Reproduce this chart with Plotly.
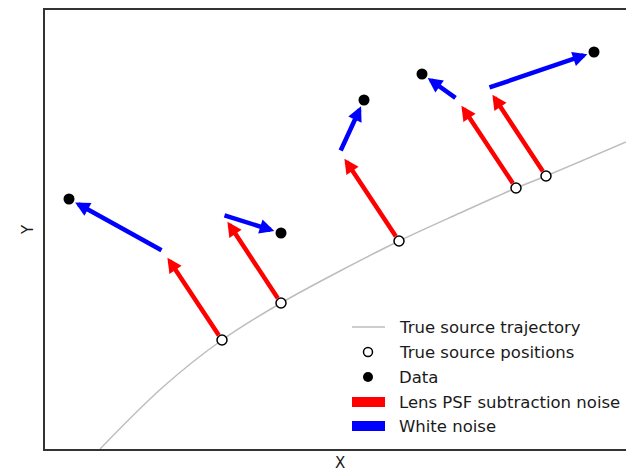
import plotly.graph_objects as go

# Source positions, noise-displaced positions and observed data (arbitrary units)
true_x = [177, 236, 354, 471, 501]
true_y = [109, 146, 208, 261, 273]

psf_x = [118, 178, 295, 412, 443]     # after lens PSF subtraction noise
psf_y = [198, 234, 297, 350, 361]

data_x = [24, 236, 319, 377, 549]     # after white noise
data_y = [250, 216, 349, 375, 397]

# Sampled true source trajectory
traj_x = [55, 118, 177, 236, 295, 354, 415, 471, 501, 581]
traj_y = [0, 62, 109, 146, 178, 208, 236, 261, 273, 307]

legend_labels = ["True source trajectory", "True source positions", "Data",
                 "Lens PSF subtraction noise", "White noise"]

W, H = 626, 472
ML, MR, MT, MB = 45, 0, 10, 23
PW, PH = W - ML - MR, H - MT - MB
FONT = "DejaVu Sans"
RED, BLUE = "#ff0000", "#0000ff"


def px(xp):
    return (xp - ML) / PW


def py(yp):
    return (H - MB - yp) / PH


fig = go.Figure()

fig.add_trace(go.Scatter(
    x=traj_x, y=traj_y, mode="lines", line=dict(color="#bdbdbd", width=1.5, shape="spline"),
    hoverinfo="skip", showlegend=False))

annotations = []
for x0, y0, x1, y1 in zip(true_x, true_y, psf_x, psf_y):
    annotations.append(dict(
        x=x1, y=y1, ax=x0, ay=y0, xref="x", yref="y", axref="x", ayref="y",
        showarrow=True, arrowhead=2, arrowsize=0.65, arrowwidth=4.5, arrowcolor=RED,
        standoff=8, startstandoff=4, text=""))
for x0, y0, x1, y1 in zip(psf_x, psf_y, data_x, data_y):
    annotations.append(dict(
        x=x1, y=y1, ax=x0, ay=y0, xref="x", yref="y", axref="x", ayref="y",
        showarrow=True, arrowhead=2, arrowsize=0.65, arrowwidth=4.5, arrowcolor=BLUE,
        standoff=7, startstandoff=0, text=""))

fig.add_trace(go.Scatter(
    x=true_x, y=true_y, mode="markers",
    marker=dict(size=10, color="white", line=dict(color="black", width=1.5)),
    showlegend=False))
fig.add_trace(go.Scatter(
    x=data_x, y=data_y, mode="markers",
    marker=dict(size=11, color="black"), showlegend=False))

# Legend panel drawn in paper coordinates
rows = [327, 352, 377, 402, 426]
sym_l, sym_r, sym_c, text_x = 352, 385, 368, 397
shapes = []
shapes.append(dict(type="line", xref="paper", yref="paper",
                   x0=px(sym_l), x1=px(sym_r), y0=py(rows[0]), y1=py(rows[0]),
                   line=dict(color="#bdbdbd", width=1.5)))
r = 4.5
shapes.append(dict(type="circle", xref="paper", yref="paper",
                   x0=px(sym_c - r), x1=px(sym_c + r), y0=py(rows[1] + r), y1=py(rows[1] - r),
                   fillcolor="white", line=dict(color="black", width=1.5)))
r = 5
shapes.append(dict(type="circle", xref="paper", yref="paper",
                   x0=px(sym_c - r), x1=px(sym_c + r), y0=py(rows[2] + r), y1=py(rows[2] - r),
                   fillcolor="black", line=dict(color="black", width=0)))
for row, col in [(rows[3], RED), (rows[4], BLUE)]:
    shapes.append(dict(type="rect", xref="paper", yref="paper",
                       x0=px(sym_l), x1=px(sym_r), y0=py(row + 5), y1=py(row - 5),
                       fillcolor=col, line=dict(width=0)))
for row, label in zip(rows, legend_labels):
    annotations.append(dict(
        x=px(text_x), y=py(row), xref="paper", yref="paper", text=label,
        showarrow=False, xanchor="left", yanchor="middle",
        font=dict(family=FONT, size=16.5, color="#1a1a1a")))

# Axis labels
annotations.append(dict(x=px(340), y=py(463), xref="paper", yref="paper", text="X",
                        showarrow=False, xanchor="center", yanchor="middle",
                        font=dict(family=FONT, size=15, color="#1a1a1a")))
annotations.append(dict(x=px(28), y=py(230), xref="paper", yref="paper", text="Y",
                        showarrow=False, xanchor="center", yanchor="middle", textangle=-90,
                        font=dict(family=FONT, size=15, color="#1a1a1a")))

fig.update_layout(
    width=W, height=H, margin=dict(l=ML, r=MR, t=MT, b=MB),
    paper_bgcolor="white", plot_bgcolor="white",
    showlegend=False, shapes=shapes, annotations=annotations,
    xaxis=dict(range=[0, PW], showgrid=False, zeroline=False, showticklabels=False,
               ticks="", showline=True, mirror=True, linecolor="#333", linewidth=2),
    yaxis=dict(range=[0, PH], showgrid=False, zeroline=False, showticklabels=False,
               ticks="", showline=True, linecolor="#333", linewidth=2),
)

fig.write_html("out.html")
